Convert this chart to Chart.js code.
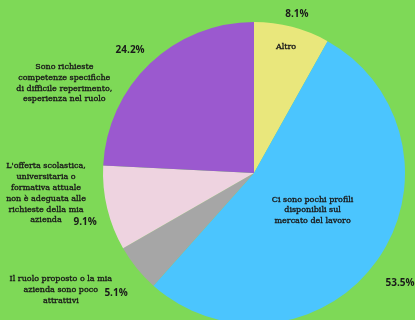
<!DOCTYPE html>
<html>
<head>
<meta charset="utf-8">
<script src="https://cdn.jsdelivr.net/npm/chart.js@4/dist/chart.umd.min.js"></script>
<style>
  html, body { margin: 0; padding: 0; background: #7ed957; }
  #wrap { position: relative; width: 415px; height: 320px; overflow: hidden; background: #7ed957; }
  #motivi { position: absolute; left: 0; top: 0; }
</style>
</head>
<body>
<div id="wrap">
  <canvas id="motivi" width="415" height="340"></canvas>
</div>
<script>
// motivi della difficolta di reperimento
var categorie = [
    ['Altro'],
    ['Ci sono pochi profili', 'disponibili sul', 'mercato del lavoro'],
    ['Il ruolo proposto o la mia', 'azienda sono poco', 'attrattivi'],
    ["L'offerta scolastica,", 'universitaria o', 'formativa attuale', 'non è adeguata alle', 'richieste della mia', 'azienda'],
    ['Sono richieste', 'competenze specifiche', 'di difficile reperimento,', 'esperienza nel ruolo']
];
var percentuali = [8.1, 53.5, 5.1, 9.1, 24.2];
var colori = ['#e9e77c', '#4bc5fe', '#a6a6a6', '#eed3e0', '#9b59cf'];

// placement of the labels: [angle shift in degrees, radius factor]
var posPerc = [[0.5, 1.09], [1.5, 1.21], [-1.9, 1.21], [-2.7, 1.165], [-1.6, 1.157]];
var posNome = [[-0.3, 0.86], [-3, 0.46], [7.9, 1.495], [7.9, 1.384], [-21.1, 1.39]];

var etichette = {
    id: 'etichette',
    afterDatasetsDraw: function(chart) {
        var ctx = chart.ctx;
        var archi = chart.getDatasetMeta(0).data;
        ctx.save();
        ctx.textAlign = 'center';
        ctx.textBaseline = 'middle';
        ctx.fillStyle = '#1a1a1a';
        ctx.strokeStyle = '#1a1a1a';
        archi.forEach(function(arco, i) {
            var mid = (arco.startAngle + arco.endAngle) / 2;
            var R = arco.outerRadius;

            var a = mid + posPerc[i][0] * Math.PI / 180;
            var r = R * posPerc[i][1];
            ctx.font = 'bold 10px "Open Sans"';
            ctx.fillText(percentuali[i].toFixed(1) + '%', arco.x + r * Math.cos(a), arco.y + r * Math.sin(a));

            a = mid + posNome[i][0] * Math.PI / 180;
            r = R * posNome[i][1];
            var cx = arco.x + r * Math.cos(a);
            var cy = arco.y + r * Math.sin(a);
            var righe = categorie[i];
            var lh = 10.8;
            ctx.font = '8px "DejaVu Serif"';
            ctx.lineWidth = 0.35;
            righe.forEach(function(riga, k) {
                var y = cy + (k - (righe.length - 1) / 2) * lh;
                ctx.fillText(riga, cx, y);
                ctx.strokeText(riga, cx, y);
            });
        });
        ctx.restore();
    }
};

var ctx = document.getElementById('motivi').getContext('2d');
var myChart = new Chart(ctx, {
    type: 'pie',
    data: {
        labels: categorie.map(function(c) { return c.join(' '); }),
        datasets: [{
            data: percentuali,
            backgroundColor: colori,
            borderWidth: 0
        }]
    },
    options: {
        responsive: false,
        animation: false,
        layout: { padding: { left: 103, right: 10, top: 22, bottom: 16 } },
        plugins: {
            legend: { display: false },
            tooltip: { enabled: false }
        }
    },
    plugins: [etichette]
});
</script>
</body>
</html>
